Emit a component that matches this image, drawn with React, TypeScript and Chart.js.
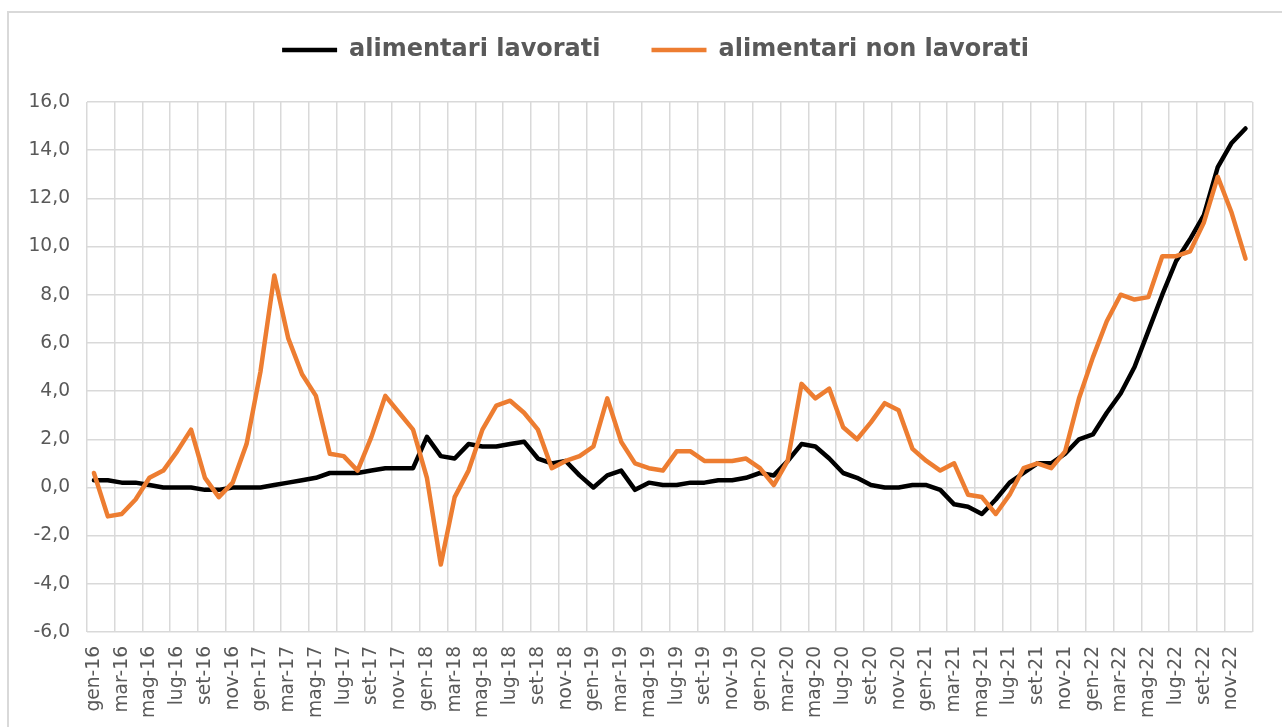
import React, { useEffect, useRef } from 'react';
import { Chart, registerables } from 'chart.js';

Chart.register(...registerables);

const categories = [
  'gen-16', 'feb-16', 'mar-16', 'apr-16', 'mag-16', 'giu-16', 'lug-16', 'ago-16', 'set-16', 'ott-16', 'nov-16', 'dic-16',
  'gen-17', 'feb-17', 'mar-17', 'apr-17', 'mag-17', 'giu-17', 'lug-17', 'ago-17', 'set-17', 'ott-17', 'nov-17', 'dic-17',
  'gen-18', 'feb-18', 'mar-18', 'apr-18', 'mag-18', 'giu-18', 'lug-18', 'ago-18', 'set-18', 'ott-18', 'nov-18', 'dic-18',
  'gen-19', 'feb-19', 'mar-19', 'apr-19', 'mag-19', 'giu-19', 'lug-19', 'ago-19', 'set-19', 'ott-19', 'nov-19', 'dic-19',
  'gen-20', 'feb-20', 'mar-20', 'apr-20', 'mag-20', 'giu-20', 'lug-20', 'ago-20', 'set-20', 'ott-20', 'nov-20', 'dic-20',
  'gen-21', 'feb-21', 'mar-21', 'apr-21', 'mag-21', 'giu-21', 'lug-21', 'ago-21', 'set-21', 'ott-21', 'nov-21', 'dic-21',
  'gen-22', 'feb-22', 'mar-22', 'apr-22', 'mag-22', 'giu-22', 'lug-22', 'ago-22', 'set-22', 'ott-22', 'nov-22', 'dic-22',
];

const seriesNames = ['alimentari lavorati', 'alimentari non lavorati'];

const lavorati = [
  0.3, 0.3, 0.2, 0.2, 0.1, 0.0, 0.0, 0.0, -0.1, -0.1, 0.0, 0.0,
  0.0, 0.1, 0.2, 0.3, 0.4, 0.6, 0.6, 0.6, 0.7, 0.8, 0.8, 0.8,
  2.1, 1.3, 1.2, 1.8, 1.7, 1.7, 1.8, 1.9, 1.2, 1.0, 1.1, 0.5,
  0.0, 0.5, 0.7, -0.1, 0.2, 0.1, 0.1, 0.2, 0.2, 0.3, 0.3, 0.4,
  0.6, 0.5, 1.1, 1.8, 1.7, 1.2, 0.6, 0.4, 0.1, 0.0, 0.0, 0.1,
  0.1, -0.1, -0.7, -0.8, -1.1, -0.5, 0.2, 0.6, 1.0, 1.0, 1.4, 2.0,
  2.2, 3.1, 3.9, 5.0, 6.5, 8.0, 9.4, 10.3, 11.3, 13.3, 14.3, 14.9,
];

const nonLavorati = [
  0.6, -1.2, -1.1, -0.5, 0.4, 0.7, 1.5, 2.4, 0.4, -0.4, 0.2, 1.8,
  4.8, 8.8, 6.2, 4.7, 3.8, 1.4, 1.3, 0.7, 2.1, 3.8, 3.1, 2.4,
  0.4, -3.2, -0.4, 0.7, 2.4, 3.4, 3.6, 3.1, 2.4, 0.8, 1.1, 1.3,
  1.7, 3.7, 1.9, 1.0, 0.8, 0.7, 1.5, 1.5, 1.1, 1.1, 1.1, 1.2,
  0.8, 0.1, 1.1, 4.3, 3.7, 4.1, 2.5, 2.0, 2.7, 3.5, 3.2, 1.6,
  1.1, 0.7, 1.0, -0.3, -0.4, -1.1, -0.3, 0.8, 1.0, 0.8, 1.5, 3.7,
  5.4, 6.9, 8.0, 7.8, 7.9, 9.6, 9.6, 9.8, 11.0, 12.9, 11.4, 9.5,
];

const Y_MIN = -6;
const Y_MAX = 16;
const Y_STEP = 2;

const FONT = "'DejaVu Sans', Verdana, sans-serif";
const TEXT = '#595959';
const GRID = '#d9d9d9';

const legendSpacer = {
  id: 'legendSpacer',
  beforeLayout(chart: any) {
    const legend = chart.legend;
    if (legend && !legend.__spaced) {
      const orig = legend.fit;
      legend.fit = function () {
        orig.call(this);
        this.height += 30;
      };
      legend.__spaced = true;
    }
  },
  afterLayout(chart: any) {
    const legend = chart.legend;
    if (legend) {
      legend.left += 12;
      legend.right += 12;
    }
  },
};

export default function App() {
  const ref = useRef<HTMLCanvasElement>(null);

  useEffect(() => {
    if (!ref.current) return;
    Chart.defaults.font.family = FONT;
    const chart = new Chart(ref.current, {
      type: 'line',
      data: {
        labels: categories,
        datasets: [
          {
            label: seriesNames[0],
            data: lavorati,
            borderColor: '#000000',
            backgroundColor: '#000000',
            borderWidth: 4.5,
            pointRadius: 0,
            tension: 0,
            borderJoinStyle: 'round',
            borderCapStyle: 'round',
            order: 1,
          },
          {
            label: seriesNames[1],
            data: nonLavorati,
            borderColor: '#ED7D31',
            backgroundColor: '#ED7D31',
            borderWidth: 4.5,
            pointRadius: 0,
            tension: 0,
            borderJoinStyle: 'round',
            borderCapStyle: 'round',
            order: 0,
          },
        ],
      },
      options: {
        animation: false,
        responsive: false,
        layout: { padding: { top: -13, left: 20, right: 15, bottom: 0 } },
        plugins: {
          legend: {
            position: 'top',
            align: 'center',
            labels: {
              usePointStyle: true,
              pointStyle: 'line',
              pointStyleWidth: 55,
              padding: 51,
              color: TEXT,
              font: { size: 24, weight: 'bold', family: FONT },
              sort: (a: any, b: any) => a.datasetIndex - b.datasetIndex,
            },
          },
          tooltip: { enabled: false },
        },
        scales: {
          x: {
            offset: true,
            grid: {
              offset: true,
              drawTicks: false,
              lineWidth: 1.5,
              color: (ctx: any) =>
                ctx.index === undefined || ctx.index % 2 === 0 ? GRID : 'rgba(0,0,0,0)',
            },
            border: { display: false },
            ticks: {
              autoSkip: false,
              minRotation: 90,
              maxRotation: 90,
              padding: 14,
              color: TEXT,
              font: { size: 18.67, family: FONT },
              callback: (_v: any, i: number) => (i % 2 === 0 ? categories[i] : ''),
            },
            afterFit: (s: any) => {
              s.height = 95;
            },
          },
          y: {
            min: Y_MIN,
            max: Y_MAX,
            grid: { color: GRID, lineWidth: 1.5, drawTicks: false },
            border: { display: false },
            ticks: {
              stepSize: Y_STEP,
              padding: 17,
              color: TEXT,
              font: { size: 18.67, family: FONT },
              callback: (v: any) => Number(v).toFixed(1).replace('.', ','),
            },
            afterFit: (s: any) => {
              s.width = 67;
            },
          },
        },
      },
      plugins: [legendSpacer],
    } as any);
    return () => chart.destroy();
  }, []);

  return (
    <div style={{ position: 'absolute', left: 0, top: 0, width: 1282, height: 727, background: '#ffffff', overflow: 'hidden' }}>
      <div
        style={{
          position: 'absolute',
          left: 7,
          top: 11,
          right: 0,
          bottom: 0,
          borderLeft: '2px solid #d9d9d9',
          borderTop: '2px solid #d9d9d9',
        }}
      />
      <canvas ref={ref} width={1282} height={727} style={{ position: 'absolute', left: 0, top: 0 }} />
    </div>
  );
}
